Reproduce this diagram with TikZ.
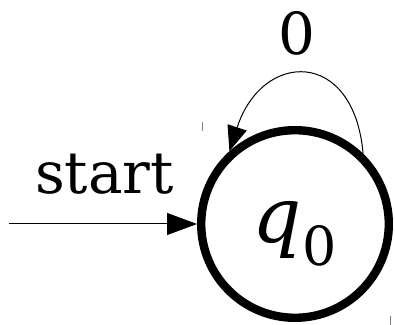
\documentclass[tikz,border=0pt]{standalone}
\usepackage{fontspec}
\setmainfont{DejaVu Serif}
\usetikzlibrary{positioning,arrows.meta}

\begin{document}
\begin{tikzpicture}[x=0.5pt,y=0.5pt,>={Triangle[length=15pt,width=11pt]},
    qstate/.style={circle,draw,line width=4.2pt,minimum size=93.8pt,inner sep=0pt},
    lbl/.style={font=\fontsize{29}{34}\selectfont,anchor=base}]
  \useasboundingbox (0,0) rectangle (395,325);
  \node[qstate] (q0) at (295,101) {};
  \node[font=\fontsize{38.5}{46}\selectfont] (q0name) at ([yshift=-5pt]q0.center) {$\mathit{q}_{\mathrm{0}}$};
  \coordinate (in) at (9,101);
  \draw[->,line width=0.5pt] (in) -- (q0);
  \node[lbl] (start) at (104.5,131) {start};
  \draw[-{Triangle[length=12.5pt,width=10pt]},line width=0.5pt] (q0.46) .. controls +(95:106) and +(72:106) .. (q0.132);
  \node[lbl] (zero) at (296.5,270) {0};
  % tick marks
  \draw[gray,line width=0.5pt] (202,203) -- (202,194);
  \draw[gray,line width=0.5pt] (390,9) -- (390,0);
\end{tikzpicture}
\end{document}
